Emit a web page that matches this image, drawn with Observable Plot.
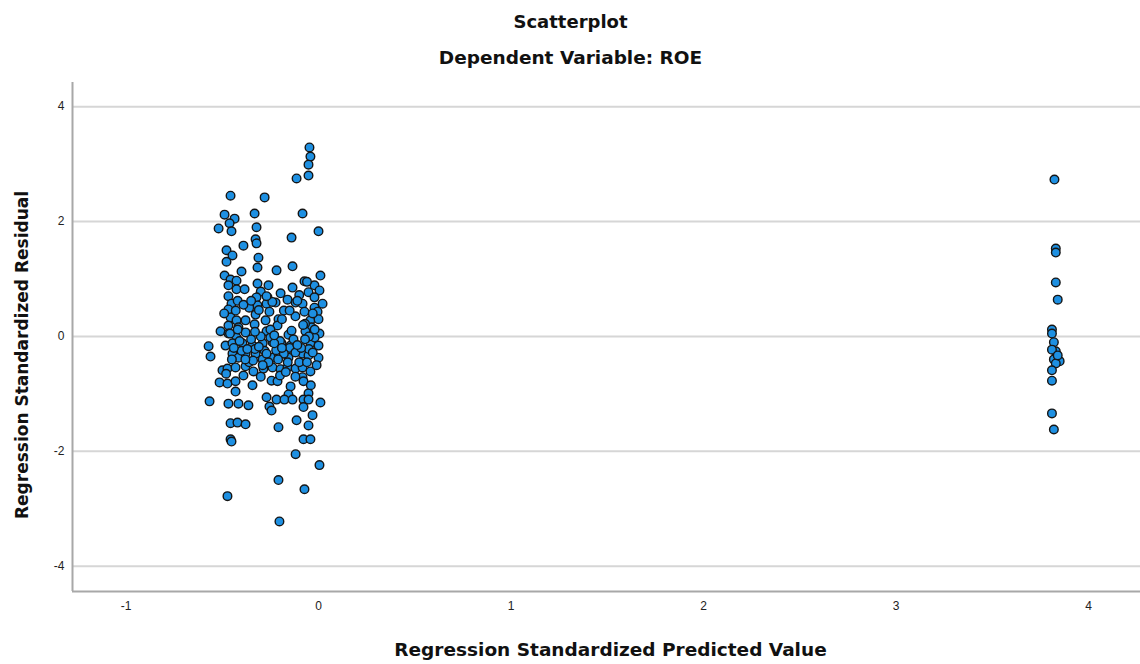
<!DOCTYPE html>
<html>
<head>
<meta charset="utf-8">
<script src="https://cdn.jsdelivr.net/npm/d3@7"></script>
<script src="https://cdn.jsdelivr.net/npm/@observablehq/plot@0.6"></script>
<style>
  html, body { margin: 0; padding: 0; background: #fff; }
  #chart { width: 1140px; height: 664px; }
</style>
</head>
<body>
<div id="chart"></div>
<script>
const title = "Scatterplot";
const subtitle = "Dependent Variable: ROE";
const xLabel = "Regression Standardized Predicted Value";
const yLabel = "Regression Standardized Residual";

const xTicks = [-1, 0, 1, 2, 3, 4];
const yTicks = [-4, -2, 0, 2, 4];
const xDomain = [-1.278, 4.27];
const yDomain = [-4.44, 4.42];

// Regression standardized predicted values (x) and residuals (y)
const predicted = [
  -0.047,-0.042,-0.052,-0.052,-0.114,-0.457,-0.28,-0.488,-0.436,-0.332,-0.083,-0.462,-0.519,-0.452,-0.322,0.0,-0.14,-0.327,
  -0.39,-0.322,-0.478,-0.447,-0.478,-0.312,-0.317,-0.135,-0.218,-0.40,-0.488,-0.457,-0.426,0.01,-0.073,-0.021,-0.468,-0.317,
  -0.26,-0.135,-0.426,-0.384,-0.30,-0.197,-0.052,0.005,-0.468,-0.322,-0.265,-0.161,-0.021,-0.452,-0.223,-0.119,-0.083,0.021,
  -0.317,-0.27,-0.468,-0.073,-0.021,-0.005,-0.255,-0.327,-0.457,-0.426,-0.379,-0.275,-0.208,-0.042,0.0,-0.332,-0.468,-0.416,
  -0.213,-0.036,-0.509,-0.468,-0.379,-0.27,-0.156,-0.068,0.005,-0.426,
  -0.571,-0.561,-0.483,-0.447,-0.395,-0.343,-0.29,-0.239,-0.192,-0.145,-0.042,0.0,-0.447,-0.416,-0.379,-0.327,-0.29,-0.239,
  -0.208,-0.156,-0.083,-0.052,0.0,-0.499,-0.473,-0.431,-0.379,-0.338,-0.286,-0.239,-0.197,-0.161,-0.119,-0.083,-0.042,-0.514,
  -0.473,-0.431,-0.431,-0.343,-0.244,-0.213,-0.145,-0.156,-0.083,-0.078,-0.052,-0.566,-0.468,-0.416,-0.364,-0.27,-0.218,-0.255,
  -0.244,-0.177,-0.135,-0.078,-0.052,0.01,-0.078,-0.031,-0.457,-0.421,-0.379,-0.208,-0.114,-0.052,-0.457,-0.078,-0.042,
  -0.452,-0.119,0.005,-0.208,-0.073,-0.473,-0.203,
  -0.35,-0.30,-0.25,-0.20,-0.15,-0.33,-0.28,-0.22,-0.18,-0.12,-0.40,-0.45,-0.36,-0.26,-0.10,-0.05,-0.02,-0.48,-0.39,-0.30,
  -0.20,-0.12,-0.04,-0.02,-0.07,-0.12,-0.18,-0.24,-0.42,-0.36,-0.49,-0.10,-0.06,-0.03,
  -0.44,-0.41,-0.37,-0.34,-0.31,-0.27,-0.23,-0.19,-0.16,-0.13,-0.09,-0.06,-0.03,-0.46,-0.42,-0.38,-0.33,-0.29,-0.25,-0.21,
  -0.17,-0.14,-0.11,-0.08,-0.05,-0.01,-0.43,-0.39,-0.35,-0.31,-0.27,-0.23,-0.19,-0.15,-0.11,-0.07,
  3.823,3.83,3.83,3.83,3.84,3.81,3.81,3.82,3.83,3.81,3.85,3.82,3.83,3.81,3.81,3.81,3.82,3.84
];
const residual = [
  3.29,3.13,2.99,2.80,2.75,2.45,2.42,2.12,2.05,2.14,2.14,1.97,1.88,1.83,1.90,1.83,1.72,1.69,
  1.58,1.62,1.50,1.41,1.30,1.37,1.20,1.22,1.15,1.13,1.06,0.99,0.97,1.06,0.96,0.89,0.89,0.92,
  0.89,0.85,0.82,0.82,0.78,0.75,0.77,0.80,0.70,0.68,0.68,0.64,0.68,0.57,0.59,0.59,0.57,0.57,
  0.54,0.57,0.47,0.43,0.50,0.43,0.43,0.38,0.33,0.28,0.28,0.28,0.30,0.28,0.30,0.21,0.19,0.16,
  0.19,0.16,0.09,0.05,0.07,0.09,0.03,0.09,0.05,-0.02,
  -0.17,-0.35,-0.16,-0.12,-0.12,-0.16,-0.12,-0.10,-0.12,-0.16,-0.12,-0.16,-0.30,-0.37,-0.30,-0.30,-0.40,-0.37,
  -0.30,-0.37,-0.30,-0.33,-0.37,-0.59,-0.56,-0.54,-0.52,-0.61,-0.56,-0.54,-0.57,-0.54,-0.56,-0.54,-0.61,-0.80,
  -0.82,-0.78,-0.96,-0.85,-0.77,-0.78,-0.87,-1.01,-0.71,-0.78,-0.99,-1.13,-1.17,-1.17,-1.20,-1.06,-1.10,-1.22,
  -1.29,-1.10,-1.10,-1.10,-1.10,-1.15,-1.23,-1.37,-1.51,-1.50,-1.53,-1.58,-1.46,-1.55,-1.79,-1.79,-1.79,
  -1.83,-2.05,-2.24,-2.50,-2.66,-2.78,-3.22,
  -0.05,0.0,-0.02,-0.08,-0.20,-0.22,-0.25,-0.24,-0.30,-0.28,-0.25,-0.40,-0.45,-0.45,-0.45,-0.22,-0.02,-0.65,-0.68,-0.70,
  -0.68,-0.70,-0.85,0.12,0.22,0.35,0.45,0.60,0.62,0.50,0.40,0.72,0.95,0.40,
  -0.20,-0.08,-0.22,-0.42,-0.18,-0.30,-0.12,-0.20,-0.45,-0.05,-0.20,-0.45,-0.28,0.05,0.12,-0.40,0.08,-0.50,0.12,-0.40,
  -0.62,0.10,-0.15,0.20,0.00,-0.50,0.45,0.55,0.62,0.46,0.70,0.02,0.30,0.45,0.62,-0.05,
  2.73,1.53,1.46,0.94,0.64,0.12,0.05,-0.10,-0.26,-0.23,-0.43,-0.40,-0.47,-0.59,-0.77,-1.34,-1.62,-0.33
];

const points = predicted.map((x, i) => ({x, y: residual[i]}));

const boldFont = "DejaVu Sans";
const fmt = d => String(d);

const chart = Plot.plot({
  width: 1140,
  height: 664,
  marginLeft: 72,
  marginRight: 0,
  marginTop: 82,
  marginBottom: 73,
  style: { fontFamily: "Liberation Sans, Arial, sans-serif", background: "#fff", overflow: "visible" },
  x: { domain: xDomain, ticks: xTicks },
  y: { domain: yDomain, ticks: yTicks },
  marks: [
    Plot.gridY(yTicks, { stroke: "#d6d6d6", strokeOpacity: 1, strokeWidth: 2 }),
    Plot.ruleX([xDomain[0]], { stroke: "#a8a8a8", strokeWidth: 2 }),
    Plot.ruleY([yDomain[0]], { stroke: "#a8a8a8", strokeWidth: 2 }),
    Plot.axisX(xTicks, { tickSize: 0, tickPadding: 10, fontSize: 12, fill: "#222", label: null, tickFormat: fmt }),
    Plot.axisY(yTicks, { tickSize: 0, tickPadding: 8, fontSize: 12, fill: "#222", label: null, tickFormat: fmt }),
    Plot.dot(points, { x: "x", y: "y", r: 4.3, fill: "#1e90e2", stroke: "#151515", strokeWidth: 1.4 }),
    Plot.text([title], { frameAnchor: "top", dx: -36, dy: -60, lineAnchor: "middle", textAnchor: "middle",
      fontSize: 18, fontWeight: "bold", fontFamily: boldFont, fill: "#111" }),
    Plot.text([subtitle], { frameAnchor: "top", dx: -36, dy: -24, lineAnchor: "middle", textAnchor: "middle",
      fontSize: 18.5, fontWeight: "bold", fontFamily: boldFont, fill: "#111" }),
    Plot.text([xLabel], { frameAnchor: "bottom", dx: 4, dy: 59, lineAnchor: "middle", textAnchor: "middle",
      fontSize: 18.5, fontWeight: "bold", fontFamily: boldFont, fill: "#111" }),
    Plot.text([yLabel], { frameAnchor: "left", dx: -50, dy: 18, rotate: -90, lineAnchor: "middle", textAnchor: "middle",
      fontSize: 17, fontWeight: "bold", fontFamily: boldFont, fill: "#111" })
  ]
});

document.getElementById("chart").appendChild(chart);
</script>
</body>
</html>
